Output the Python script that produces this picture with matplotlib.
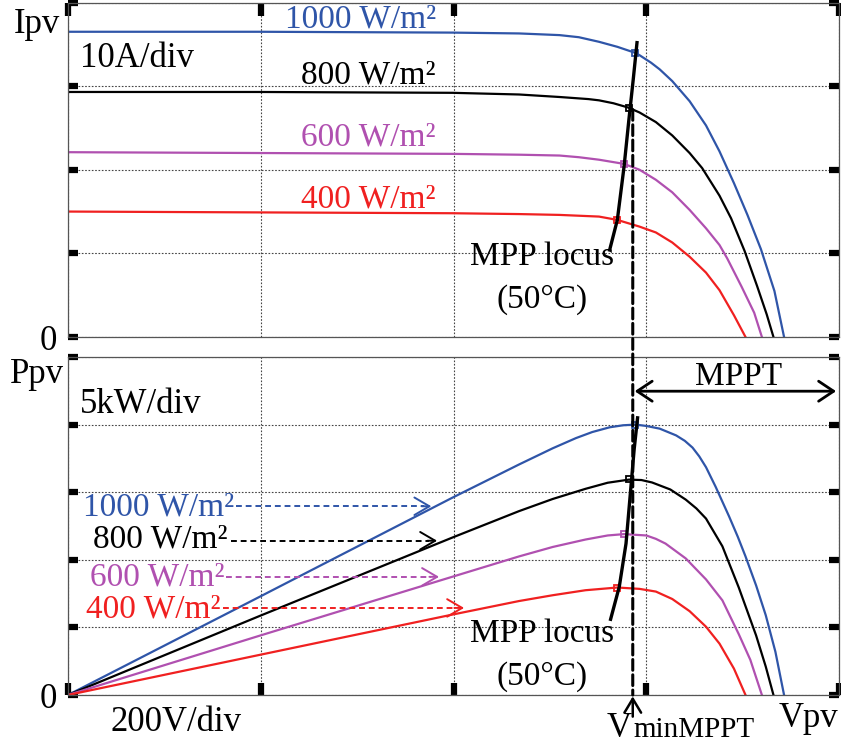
import matplotlib.pyplot as plt
from matplotlib.patches import ConnectionPatch

plt.rcParams['font.family'] = ['Liberation Serif', 'DejaVu Serif']

# I-V curves (V in volts, I in amps)
v_iv_1000 = [0, 199, 399, 468, 510, 530, 551, 570, 588, 593, 605, 614, 627, 645, 662, 676, 691, 705, 719, 733, 743]
i_1000 = [36.5, 36.5, 36.4, 36.3, 36.1, 35.85, 35.3, 34.7, 34.0, 33.7, 32.8, 32.0, 30.6, 28.2, 25.3, 22.2, 18.4, 14.6, 10.5, 5.5, 0]
v_iv_800 = [0, 199, 399, 468, 510, 540, 551, 566, 581, 593, 610, 627, 645, 658, 676, 688, 702, 715, 725, 732]
i_800 = [29.3, 29.3, 29.2, 29.0, 28.7, 28.45, 28.3, 27.95, 27.45, 26.85, 25.7, 24.1, 22.0, 20.2, 16.9, 14.2, 10.3, 6.1, 2.7, 0]
v_iv_600 = [0, 199, 399, 468, 510, 530, 551, 577, 593, 610, 627, 645, 662, 676, 684, 699, 712, 720]
i_600 = [22.1, 22.0, 21.9, 21.8, 21.7, 21.5, 21.2, 20.7, 20.0, 18.8, 17.3, 15.2, 13.0, 11.0, 9.4, 6.0, 2.9, 0]
v_iv_400 = [0, 199, 399, 468, 510, 551, 570, 593, 610, 627, 645, 662, 676, 691, 703]
i_400 = [15.0, 14.9, 14.8, 14.7, 14.6, 14.4, 14.0, 13.2, 12.5, 11.3, 9.6, 7.7, 5.6, 2.6, 0]

# P-V curves (kW)
v_pv_1000 = [0, 199, 399, 468, 503, 527, 544, 562, 576, 589, 600, 614, 631, 640, 648, 655, 662, 672, 686, 695, 703, 714, 724, 734, 743]
p_1000 = [0, 7.27, 14.6, 17.05, 18.25, 19.0, 19.45, 19.8, 19.95, 20.0, 19.9, 19.7, 19.2, 18.8, 18.3, 17.65, 16.85, 15.4, 13.2, 11.7, 10.25, 8.1, 5.9, 3.2, 0]
v_pv_800 = [0, 199, 399, 468, 503, 537, 560, 582, 595, 606, 625, 641, 652, 662, 679, 696, 714, 724, 732]
p_800 = [0, 5.85, 11.65, 13.6, 14.5, 15.25, 15.7, 15.93, 15.9, 15.72, 15.2, 14.45, 13.8, 13.05, 11.0, 7.95, 4.4, 2.1, 0]
v_pv_600 = [0, 199, 399, 468, 503, 537, 560, 577, 600, 610, 620, 641, 662, 679, 696, 708, 720]
p_600 = [0, 4.39, 8.75, 10.25, 10.95, 11.5, 11.8, 11.9, 11.8, 11.55, 11.2, 10.1, 8.55, 7.0, 4.5, 2.6, 0]
v_pv_400 = [0, 199, 399, 468, 503, 537, 570, 593, 610, 627, 645, 662, 676, 691, 703]
p_400 = [0, 2.97, 5.95, 6.95, 7.38, 7.75, 7.95, 7.85, 7.65, 7.1, 6.2, 5.05, 3.8, 1.95, 0]

# maximum power points
mpp_v = [588, 582, 577, 570]
mpp_i = [34.0, 27.4, 20.7, 14.0]
mpp_p = [19.95, 15.95, 11.9, 7.95]

# MPP locus lines
locus_v_top = [562, 570, 577, 582, 586.5, 590.4]
locus_i = [10.4, 14.0, 20.4, 26.0, 30.8, 35.2]
locus_v_bot = [563, 572, 579, 583.5, 587.5, 591]
locus_p = [5.6, 8.0, 11.2, 14.9, 18.2, 20.5]

v_min_mppt = 586
labels = ['1000 W/m²', '800 W/m²', '600 W/m²', '400 W/m²']
colors = ['#2f55a8', 'black', '#b050b0', '#f02020']

# dashed label arrows in the power plot: start V, tip V, level kW
arrow_start = [174, 169, 164, 161]
arrow_tip = [377, 383, 385, 411]
arrow_level = [13.96, 11.41, 8.74, 6.44]

W, H = 841, 746
fig = plt.figure(figsize=(W / 100, H / 100), dpi=100)
ax1 = fig.add_axes([68 / W, 1 - 337 / H, 771 / W, 334.5 / H])
ax2 = fig.add_axes([68 / W, 1 - 695 / H, 771 / W, 338 / H])


def px(x, y):
    return x / W, 1 - y / H


def style_axes(ax, ymax, ystep, top):
    ax.set_xlim(0, 800)
    ax.set_ylim(0, ymax)
    ax.set_xticks([0, 200, 400, 600, 800])
    yt = list(range(0, ymax + 1, ystep))
    ax.set_yticks(yt)
    ax.set_yticklabels(['0'] + [''] * (len(yt) - 1), fontsize=25)
    ax.tick_params(axis='x', direction='in', top=top, bottom=not top,
                   labelbottom=False, labeltop=False, length=9, width=4.5, color='black')
    ax.tick_params(axis='y', direction='in', left=True, right=True,
                   length=7.5, width=4.5, color='black', pad=8)
    ax.grid(True, ls=(0, (1.5, 1.5)), color='#444444', lw=0.8)
    for s in ax.spines.values():
        s.set_color('#555555')
        s.set_linewidth(0.9)


style_axes(ax1, 40, 10, True)
style_axes(ax2, 25, 5, False)

ax1.plot(v_iv_1000, i_1000, color=colors[0], lw=1.6)
ax1.plot(v_iv_800, i_800, color=colors[1], lw=1.6)
ax1.plot(v_iv_600, i_600, color=colors[2], lw=1.6)
ax1.plot(v_iv_400, i_400, color=colors[3], lw=1.6)

ax2.plot(v_pv_1000, p_1000, color=colors[0], lw=1.6)
ax2.plot(v_pv_800, p_800, color=colors[1], lw=1.6)
ax2.plot(v_pv_600, p_600, color=colors[2], lw=1.6)
ax2.plot(v_pv_400, p_400, color=colors[3], lw=1.6)

for k in range(4):
    ax1.plot(mpp_v[k], mpp_i[k], ls='none', marker='s', ms=5, mfc='none', mec=colors[k], mew=1.3)
    ax2.plot(mpp_v[k], mpp_p[k], ls='none', marker='s', ms=5, mfc='none', mec=colors[k], mew=1.3)

ax1.plot(locus_v_top, locus_i, color='black', lw=2.4)
ax2.plot(locus_v_bot, locus_p, color='black', lw=2.4)

# V_minMPPT dashed line through both plots
con = ConnectionPatch(xyA=(v_min_mppt, 27.2), coordsA=ax1.transData,
                      xyB=(v_min_mppt, 0), coordsB=ax2.transData,
                      color='black', lw=2.2, linestyle=(0, (3.5, 1.5)))
fig.add_artist(con)
ax2.annotate('', xy=(v_min_mppt, -0.1), xytext=(v_min_mppt, -1.6),
             arrowprops=dict(arrowstyle='->,head_length=0.5,head_width=0.3', color='black',
                             lw=1.8, mutation_scale=20, shrinkA=0, shrinkB=0),
             annotation_clip=False)

# MPPT range arrow
ax2.annotate('', xy=(797, 22.47), xytext=(588, 22.47),
             arrowprops=dict(arrowstyle='<->,head_length=0.45,head_width=0.3', color='black',
                             lw=2, mutation_scale=24, shrinkA=0, shrinkB=0))

# labels with dashed arrows in power plot
for k in range(4):
    ax2.plot([arrow_start[k], arrow_tip[k] - 8], [arrow_level[k]] * 2, color=colors[k],
             lw=1.4, ls=(0, (3, 2)))
    ax2.annotate('', xy=(arrow_tip[k], arrow_level[k]), xytext=(arrow_tip[k] - 10, arrow_level[k]),
                 arrowprops=dict(arrowstyle='->,head_length=0.6,head_width=0.35', color=colors[k],
                                 lw=1.4, mutation_scale=18, shrinkA=0, shrinkB=0))

fs = 24
# upper plot texts
fig.text(*px(14, 33), 'Ipv', fontsize=25, va='baseline')
fig.text(*px(80, 67), '10A/div', fontsize=25, va='baseline')
top_base = [28, 83, 145, 207]
for k in range(4):
    fig.text(*px(436, top_base[k]), labels[k], fontsize=fs, color=colors[k], ha='right', va='baseline')
fig.text(*px(470, 265), 'MPP locus', fontsize=fs, va='baseline')
fig.text(*px(497, 308), '(50°C)', fontsize=fs, va='baseline')

# lower plot texts
fig.text(*px(10, 383), 'Ppv', fontsize=25, va='baseline')
fig.text(*px(80, 413), '5kW/div', fontsize=25, va='baseline')
bot_left = [83, 93, 90, 86]
bot_base = [515, 547, 585, 617]
for k in range(4):
    fig.text(*px(bot_left[k], bot_base[k]), labels[k], fontsize=fs, color=colors[k], va='baseline')
fig.text(*px(695, 385), 'MPPT', fontsize=fs, va='baseline')
fig.text(*px(470, 642), 'MPP locus', fontsize=fs, va='baseline')
fig.text(*px(497, 685), '(50°C)', fontsize=fs, va='baseline')
fig.text(*px(110, 731), '200V/div', fontsize=25, va='baseline')
fig.text(*px(607, 737), 'V', fontsize=25, va='baseline')
fig.text(*px(633, 737), 'minMPPT', fontsize=21, va='baseline')
fig.text(*px(838, 727), 'Vpv', fontsize=25, ha='right', va='baseline')

fig.savefig('out.png', dpi=100)
